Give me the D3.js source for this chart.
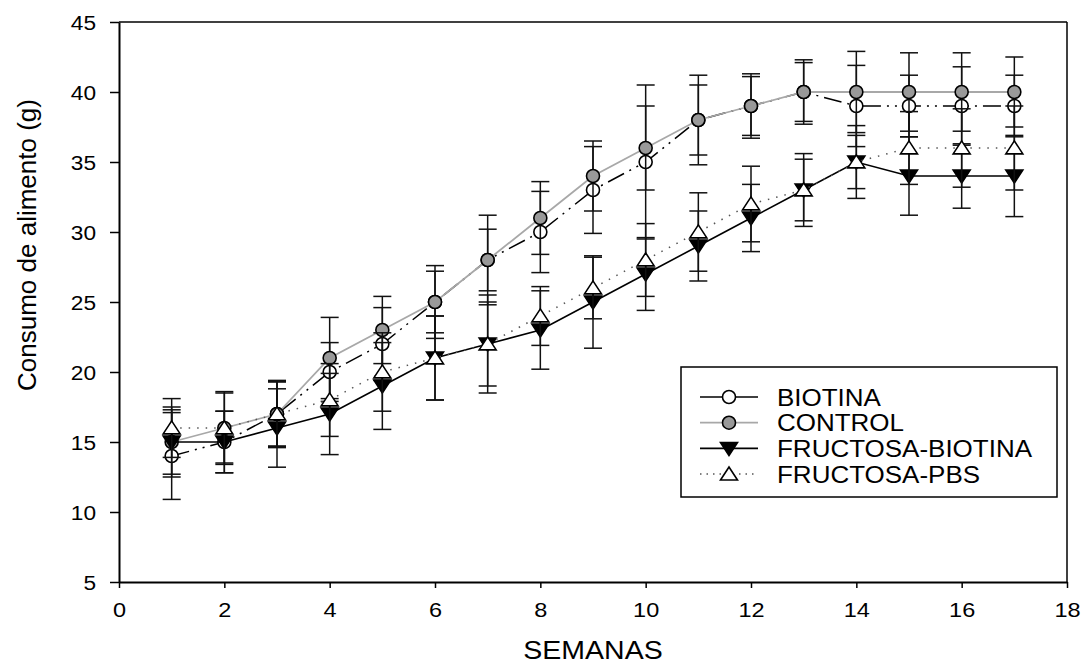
<!DOCTYPE html>
<html><head><meta charset="utf-8">
<script src="https://cdn.jsdelivr.net/npm/d3@7"></script>
<style>body{margin:0;background:#fff}svg text{font-family:"Liberation Sans",Arial,sans-serif;fill:#000}</style>
</head><body><svg id="c" width="1083" height="668"></svg>
<script>
const weeks = [1,2,3,4,5,6,7,8,9,10,11,12,13,14,15,16,17];
const biotina      = [14,15,17,20,22,25,28,30,33,35,38,39,40,39,39,39,39];
const biotinaErr   = [3.1,2.2,2.3,2.1,2.6,2.2,2.2,2.9,3.1,5.5,2.5,2.1,2.1,2.9,2.2,2.8,2.2];
const control      = [15,16,17,21,23,25,28,31,34,36,38,39,40,40,40,40,40];
const controlErr   = [2.5,2.5,2.4,2.9,2.4,2.6,3.2,2.6,2.5,3.0,3.2,2.3,2.3,2.9,2.8,2.8,2.5];
const fructBiotina = [15,15,16,17,19,21,22,23,25,27,29,31,33,35,34,34,34];
const fructBiotinaErr = [2.3,2.2,2.8,2.9,3.1,3.0,3.0,2.8,3.3,2.6,2.5,2.4,2.6,2.6,2.8,2.3,2.9];
const fructPBS     = [16,16,17,18,20,21,22,24,26,28,30,32,33,35,36,36,36];
const fructPBSErr  = [2.1,2.6,2.3,2.6,2.8,3.0,3.5,2.1,2.2,2.6,2.8,2.7,2.2,1.9,2.6,2.8,3.0];
const seriesNames = ["BIOTINA","CONTROL","FRUCTOSA-BIOTINA","FRUCTOSA-PBS"];
const xTicks = [0,2,4,6,8,10,12,14,16,18];
const yTicks = [5,10,15,20,25,30,35,40,45];

const series = [
  {name:seriesNames[0], v:biotina, e:biotinaErr, line:"#000", dash:"18,6,2,6,2,6", lw:1.5, sym:"circle", fill:"#fff"},
  {name:seriesNames[1], v:control, e:controlErr, line:"#a8a8a8", dash:null, lw:1.8, sym:"circle", fill:"#999"},
  {name:seriesNames[2], v:fructBiotina, e:fructBiotinaErr, line:"#000", dash:null, lw:1.6, sym:"down", fill:"#000"},
  {name:seriesNames[3], v:fructPBS, e:fructPBSErr, line:"#555", dash:"1.5,7", lw:1.5, sym:"up", fill:"#fff"}
];

const svg = d3.select("#c");
const x = d3.scaleLinear().domain([0,18]).range([119,1067]);
const y = d3.scaleLinear().domain([5,45]).range([582,22]);

// frame top/right
svg.append("line").attr("x1",x(0)).attr("x2",x(18)).attr("y1",y(45)).attr("y2",y(45)).attr("stroke","#000").attr("stroke-width",1.5);
svg.append("line").attr("x1",x(18)).attr("x2",x(18)).attr("y1",y(45)).attr("y2",y(5)).attr("stroke","#000").attr("stroke-width",1.5);

const xAxis = svg.append("g").attr("transform",`translate(0,${y(5)})`)
  .call(d3.axisBottom(x).tickValues(xTicks).tickSize(6).tickSizeOuter(0));
const yAxis = svg.append("g").attr("transform",`translate(${x(0)},0)`)
  .call(d3.axisLeft(y).tickValues(yTicks).tickSize(9).tickSizeOuter(0));
[xAxis,yAxis].forEach(g=>{
  g.select(".domain").attr("stroke","#000").attr("stroke-width",2);
  g.selectAll(".tick line").attr("stroke","#000").attr("stroke-width",1.5);
});
xAxis.selectAll(".tick text").attr("font-size",21).attr("font-family","Liberation Sans, Arial").attr("fill","#000")
  .attr("y",0).attr("dy",0).attr("transform","translate(0,35) scale(1.12,1)");
yAxis.selectAll(".tick text").attr("font-size",21).attr("font-family","Liberation Sans, Arial").attr("fill","#000")
  .attr("x",0).attr("dy","0.36em").attr("transform","translate(-23,0) scale(1.08,1)");

svg.append("text").attr("transform","translate(593,659) scale(1.14,1)").attr("text-anchor","middle").attr("font-size",25).text("SEMANAS");
svg.append("text").attr("transform","translate(36,245) rotate(-90)").attr("text-anchor","middle").attr("font-size",26).text("Consumo de alimento (g)");

function symbolPath(type, cx, cy){
  if(type==="circle"){ const r=6.5; return `M${cx-r},${cy}a${r},${r} 0 1,0 ${2*r},0a${r},${r} 0 1,0 ${-2*r},0Z`; }
  const w=8.5, h=13;
  if(type==="down") return `M${cx-w},${cy-h*0.45}L${cx+w},${cy-h*0.45}L${cx},${cy+h*0.55}Z`;
  return `M${cx-w},${cy+h*0.45}L${cx+w},${cy+h*0.45}L${cx},${cy-h*0.55}Z`;
}

series.forEach(s=>{
  const g = svg.append("g");
  const pts = weeks.map((w,i)=>({w, v:s.v[i], e:s.e[i]}));
  const eb = g.selectAll(".eb").data(pts).enter().append("g");
  eb.append("line").attr("x1",d=>x(d.w)).attr("x2",d=>x(d.w)).attr("y1",d=>y(d.v+d.e)).attr("y2",d=>y(d.v-d.e)).attr("stroke","#111").attr("stroke-width",1.5);
  eb.append("line").attr("x1",d=>x(d.w)-9).attr("x2",d=>x(d.w)+9).attr("y1",d=>y(d.v+d.e)).attr("y2",d=>y(d.v+d.e)).attr("stroke","#111").attr("stroke-width",1.5);
  eb.append("line").attr("x1",d=>x(d.w)-9).attr("x2",d=>x(d.w)+9).attr("y1",d=>y(d.v-d.e)).attr("y2",d=>y(d.v-d.e)).attr("stroke","#111").attr("stroke-width",1.5);
  g.append("path").datum(pts).attr("fill","none").attr("stroke",s.line).attr("stroke-width",s.lw)
    .attr("stroke-dasharray",s.dash).attr("d",d3.line().x(d=>x(d.w)).y(d=>y(d.v)));
  g.selectAll(".m").data(pts).enter().append("path")
    .attr("d",d=>symbolPath(s.sym,x(d.w),y(d.v))).attr("fill",s.fill).attr("stroke","#000").attr("stroke-width",1.6);
});

// legend
const lg = svg.append("g");
lg.append("rect").attr("x",681).attr("y",367).attr("width",376).attr("height",130).attr("fill","#fff").attr("stroke","#000").attr("stroke-width",1.5);
series.forEach((s,i)=>{
  const ly = 397 + i*25.7;
  lg.append("line").attr("x1",700).attr("x2",758).attr("y1",ly).attr("y2",ly).attr("stroke",s.line).attr("stroke-width",s.lw)
    .attr("stroke-dasharray", i===3 ? "1.5,5" : null);
  lg.append("path").attr("d",symbolPath(s.sym,729,ly)).attr("fill",s.fill).attr("stroke","#000").attr("stroke-width",1.6);
  lg.append("text").attr("transform",`translate(777,${ly+8.5}) scale(1.13,1)`).attr("font-size",23).text(s.name);
});
</script></body></html>
